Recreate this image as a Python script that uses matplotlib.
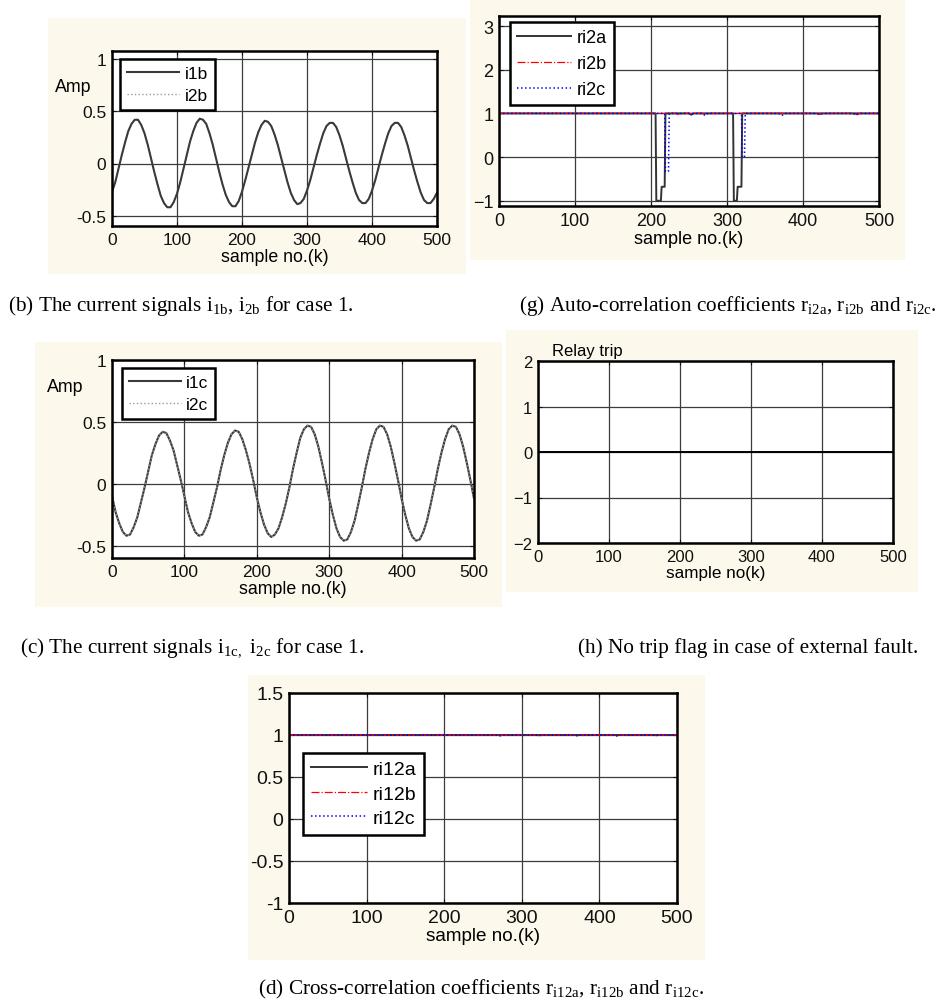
import numpy as np
import matplotlib.pyplot as plt
from matplotlib.patches import Rectangle

plt.rcParams['font.family'] = ['Liberation Sans', 'DejaVu Sans']
plt.rcParams['mathtext.fontset'] = 'custom'
plt.rcParams['mathtext.rm'] = 'Liberation Serif'
plt.rcParams['mathtext.default'] = 'regular'

# sample index for the current signals (every 5th sample)
k_sig = np.arange(0, 505, 5)

i1b = [-0.27, -0.18, -0.05, 0.08, 0.20, 0.31, 0.38, 0.42, 0.42, 0.37, 0.29, 0.18, 0.05, -0.08, -0.20, -0.31, -0.38, -0.42, -0.42, -0.37,
       -0.29, -0.18, -0.05, 0.08, 0.21, 0.31, 0.39, 0.43, 0.42, 0.38, 0.29, 0.18, 0.05, -0.08, -0.20, -0.30, -0.37, -0.41, -0.41, -0.36,
       -0.27, -0.16, -0.04, 0.08, 0.20, 0.30, 0.37, 0.41, 0.40, 0.36, 0.28, 0.18, 0.06, -0.06, -0.18, -0.28, -0.35, -0.39, -0.38, -0.34,
       -0.26, -0.16, -0.04, 0.08, 0.19, 0.29, 0.36, 0.39, 0.39, 0.35, 0.27, 0.17, 0.05, -0.07, -0.18, -0.28, -0.35, -0.38, -0.38, -0.34,
       -0.26, -0.16, -0.04, 0.08, 0.19, 0.29, 0.36, 0.39, 0.39, 0.35, 0.27, 0.17, 0.05, -0.07, -0.18, -0.28, -0.35, -0.38, -0.38, -0.34,
       -0.28]
i2b = list(i1b)  # lies right on top of i1b

i1c = [-0.10, -0.23, -0.32, -0.39, -0.42, -0.41, -0.35, -0.27, -0.15, -0.03, 0.10, 0.23, 0.32, 0.39, 0.42, 0.41, 0.35, 0.27, 0.15, 0.03,
       -0.10, -0.23, -0.32, -0.39, -0.42, -0.41, -0.35, -0.27, -0.15, -0.03, 0.11, 0.23, 0.33, 0.40, 0.43, 0.42, 0.36, 0.27, 0.16, 0.03,
       -0.11, -0.23, -0.33, -0.40, -0.43, -0.41, -0.36, -0.27, -0.16, -0.03, 0.12, 0.25, 0.37, 0.44, 0.47, 0.46, 0.40, 0.30, 0.17, 0.03,
       -0.12, -0.25, -0.36, -0.43, -0.46, -0.45, -0.39, -0.30, -0.17, -0.03, 0.12, 0.25, 0.36, 0.44, 0.47, 0.46, 0.40, 0.30, 0.17, 0.03,
       -0.12, -0.25, -0.36, -0.43, -0.46, -0.45, -0.39, -0.30, -0.17, -0.03, 0.12, 0.25, 0.36, 0.44, 0.47, 0.46, 0.40, 0.30, 0.17, 0.03,
       -0.12]
i2c = list(i1c)

# auto-correlation coefficients (breakpoints)
ri2a_k = [0, 206, 207, 213, 214, 218, 219, 250, 253, 256, 308, 309, 313, 314, 319, 320, 500]
ri2a_v = [1, 1, -1, -1, -0.68, -0.68, 1, 1, 0.97, 1, 1, -1, -1, -0.68, -0.68, 1, 1]
ri2b_k = [0, 233, 237, 241, 268, 272, 276, 418, 422, 426, 466, 470, 474, 500]
ri2b_v = [1, 1, 0.97, 1, 1, 0.98, 1, 1, 0.98, 1, 1, 0.97, 1, 1]
ri2c_k = [0, 218, 219, 223, 224, 268, 271, 274, 319, 320, 323, 324, 368, 372, 376, 418, 422, 426, 466, 470, 474, 500]
ri2c_v = [1, 1, -0.33, -0.33, 1, 1, 0.95, 1, 1, 0, 0, 1, 1, 0.95, 1, 1, 0.97, 1, 1, 0.96, 1, 1]

# trip flag
trip_k = [0, 500]
trip_v = [0, 0]

# cross-correlation coefficients
ri12a_k = [0, 500]
ri12a_v = [1, 1]
ri12b_k = [0, 268, 272, 276, 318, 322, 326, 368, 372, 376, 418, 422, 426, 468, 472, 476, 500]
ri12b_v = [1, 1, 0.99, 1, 1, 0.99, 1, 1, 0.99, 1, 1, 0.99, 1, 1, 0.99, 1, 1]
ri12c_k = list(ri12b_k)
ri12c_v = list(ri12b_v)

xticks = [0, 100, 200, 300, 400, 500]

W, H = 944, 1003
BEIGE = '#fdf8ec'
fig = plt.figure(figsize=(W / 100, H / 100), dpi=100)


def px_box(l, t, r, b):
    return [l / W, 1 - b / H, (r - l) / W, (b - t) / H]


def beige(l, t, r, b):
    fig.patches.append(Rectangle((l / W, 1 - b / H), (r - l) / W, (b - t) / H,
                                 transform=fig.transFigure, facecolor=BEIGE,
                                 edgecolor='none', zorder=-10))


def make_ax(box, ylim, yticks, fs=12.5):
    ax = fig.add_axes(px_box(*box))
    ax.set_xlim(0, 500)
    ax.set_ylim(*ylim)
    ax.set_xticks(xticks)
    ax.set_yticks(yticks)
    ax.grid(True, color='#3c3c3c', lw=0.9)
    ax.tick_params(direction='in', length=3, top=True, right=True,
                   labelsize=fs, colors='#111111', pad=4)
    for s in ax.spines.values():
        s.set_linewidth(1.8)
    return ax


def legend(ax, anchor, fs=12.5, hl=3.0, ls=0.55, order=None):
    h, l = ax.get_legend_handles_labels()
    if order:
        h = [h[i] for i in order]
        l = [l[i] for i in order]
    leg = ax.legend(h, l, loc='upper left', bbox_to_anchor=anchor, borderaxespad=0,
                    fancybox=False, edgecolor='black', framealpha=1,
                    fontsize=fs, handlelength=hl, handletextpad=0.3,
                    borderpad=0.4, labelspacing=ls)
    leg.get_frame().set_linewidth(1.8)
    return leg


# panel backgrounds
beige(48, 19, 466, 275)
beige(470, 0, 905, 261)
beige(35, 343, 502, 608)
beige(506, 331, 918, 593)
beige(248, 676, 705, 961)

# (b)
ax = make_ax((112, 52, 437, 227), (-0.6, 1.08), [-0.5, 0, 0.5, 1])
ax.set_yticklabels(['-0.5', '0', '0.5', '1'])
ax.plot(k_sig, i2b, color='#9a9a9a', ls=':', lw=1.0, label='i2b')
ax.plot(k_sig, i1b, color='#3a3a3a', lw=1.5, label='i1b')
legend(ax, (0.026, 0.953), order=[1, 0], ls=0.4)
ax.set_xlabel('sample no.(k)', fontsize=12.8, labelpad=1)
fig.text(55 / W, 1 - 87 / H, 'Amp', fontsize=12.8, va='center', ha='left')

# (g)
ax = make_ax((499, 17, 879, 207), (-1.12, 3.23), [-1, 0, 1, 2, 3], fs=13)
ax.plot(ri2a_k, ri2a_v, color='#333333', lw=1.4, label='ri2a')
ax.plot(ri2b_k, ri2b_v, color='red', ls='-.', lw=0.9, label='ri2b')
ax.plot(ri2c_k, ri2c_v, color='blue', ls=':', lw=1.1, label='ri2c')
legend(ax, (0.029, 0.97), fs=13, hl=3.0, ls=0.5)
ax.set_xlabel('sample no.(k)', fontsize=13, labelpad=1)

# (c)
ax = make_ax((112, 361, 474, 559), (-0.6, 1.0), [-0.5, 0, 0.5, 1])
ax.set_yticklabels(['-0.5', '0', '0.5', '1'])
ax.plot(k_sig, i1c, color='#3a3a3a', lw=1.5, label='i1c')
ax.plot(k_sig, i2c, color='#9a9a9a', ls=':', lw=1.0, label='i2c')
legend(ax, (0.027, 0.96), ls=0.4)
ax.set_xlabel('sample no.(k)', fontsize=12.8, labelpad=1)
fig.text(47 / W, 1 - 387 / H, 'Amp', fontsize=12.8, va='center', ha='left')

# (h)
ax = make_ax((538, 362, 893, 544), (-2, 2), [-2, -1, 0, 1, 2], fs=12)
ax.plot(trip_k, trip_v, color='black', lw=1.4)
ax.set_xlabel('sample no(k)', fontsize=12.3, labelpad=1)
ax.text(0.04, 1.015, 'Relay trip', transform=ax.transAxes, fontsize=12,
        va='bottom', ha='left')

# (d)
ax = make_ax((289, 694, 677, 904), (-1, 1.5), [-1, -0.5, 0, 0.5, 1, 1.5], fs=14)
ax.set_yticklabels(['-1', '-0.5', '0', '0.5', '1', '1.5'])
ax.plot(ri12a_k, ri12a_v, color='#333333', lw=1.4, label='ri12a')
ax.plot(ri12b_k, ri12b_v, color='red', ls='-.', lw=0.9, label='ri12b')
ax.plot(ri12c_k, ri12c_v, color='blue', ls=':', lw=1.1, label='ri12c')
legend(ax, (0.036, 0.715), fs=14, hl=2.9, ls=0.35)
ax.set_xlabel('sample no.(k)', fontsize=13.6, labelpad=1)

# captions
cap = dict(fontsize=15.3, family=['Liberation Serif', 'DejaVu Serif'], va='center', ha='left')
fig.text(8 / W, 1 - 306 / H, r'(b) The current signals i$_{1b}$, i$_{2b}$ for case 1.', **cap)
fig.text(519 / W, 1 - 306 / H,
         r'(g) Auto-correlation coefficients r$_{i2a}$, r$_{i2b}$ and r$_{i2c}$.', **cap)
fig.text(20 / W, 1 - 648 / H, r'(c) The current signals i$_{1c,}$ i$_{2c}$ for case 1.', **cap)
fig.text(578 / W, 1 - 648 / H, '(h) No trip flag in case of external fault.', **cap)
fig.text(258 / W, 1 - 989 / H,
         r'(d) Cross-correlation coefficients r$_{i12a}$, r$_{i12b}$ and r$_{i12c}$.', **cap)

fig.savefig('out.png', dpi=100, facecolor='white')
